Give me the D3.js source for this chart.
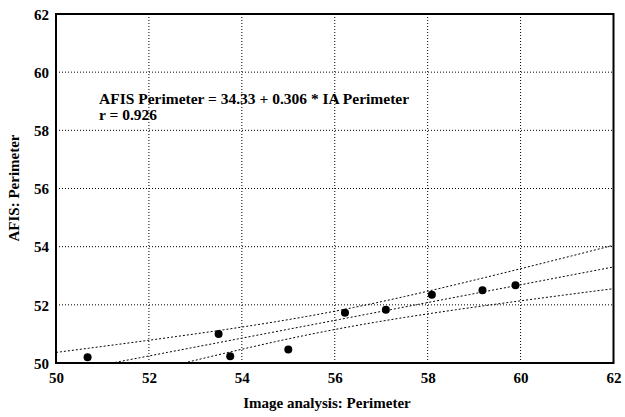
<!DOCTYPE html>
<html>
<head>
<meta charset="utf-8">
<script src="https://cdn.jsdelivr.net/npm/d3@7"></script>
<style>
  body { margin: 0; background: #fff; }
</style>
</head>
<body>
<svg width="625" height="417"></svg>
<script>
// image analysis perimeter vs AFIS perimeter
var iaPerimeter   = [50.68, 53.50, 53.75, 55.00, 56.22, 57.10, 58.09, 59.18, 59.89];
var afisPerimeter = [50.20, 51.00, 50.23, 50.46, 51.73, 51.83, 52.35, 52.50, 52.67];
var xTicks = [50, 52, 54, 56, 58, 60, 62];
var yTicks = [50, 52, 54, 56, 58, 60, 62];
var intercept = 34.33, slope = 0.306;

var serif = "'Liberation Serif', 'Times New Roman', Times, 'DejaVu Serif', serif";

var svg = d3.select("svg"),
    margin = {top: 14, right: 11.5, bottom: 54, left: 56},
    width = 625 - margin.left - margin.right,
    height = 417 - margin.top - margin.bottom;

var x = d3.scaleLinear().domain([50, 62]).range([0, width]);
var y = d3.scaleLinear().domain([50, 62]).range([height, 0]);

var g = svg.append("g")
    .attr("transform", "translate(" + margin.left + "," + margin.top + ")");

svg.append("clipPath").attr("id", "clip")
  .append("rect").attr("width", width).attr("height", height);

// grid
g.selectAll(".vgrid")
  .data(xTicks.slice(1, -1))
  .enter().append("line")
    .attr("x1", function(d) { return x(d); })
    .attr("x2", function(d) { return x(d); })
    .attr("y1", 0).attr("y2", height)
    .attr("stroke", "#000").attr("stroke-width", 1)
    .attr("stroke-dasharray", "1,2");

g.selectAll(".hgrid")
  .data(yTicks.slice(1, -1))
  .enter().append("line")
    .attr("y1", function(d) { return y(d); })
    .attr("y2", function(d) { return y(d); })
    .attr("x1", 0).attr("x2", width)
    .attr("stroke", "#000").attr("stroke-width", 1)
    .attr("stroke-dasharray", "1,2");

// regression line + 95% confidence band
var n = iaPerimeter.length,
    mx = d3.mean(iaPerimeter),
    sxx = d3.sum(iaPerimeter, function(v) { return (v - mx) * (v - mx); }),
    sse = d3.sum(iaPerimeter, function(v, i) {
      var r = afisPerimeter[i] - (intercept + slope * v);
      return r * r;
    }),
    s = Math.sqrt(sse / (n - 2)),
    t = 2.365;

var xs = d3.range(50, 62.01, 0.1);
function band(sign) {
  return xs.map(function(v) {
    var half = t * s * Math.sqrt(1 / n + (v - mx) * (v - mx) / sxx);
    return [v, intercept + slope * v + sign * half];
  });
}

var line = d3.line()
    .x(function(d) { return x(d[0]); })
    .y(function(d) { return y(d[1]); });

var fits = g.append("g").attr("clip-path", "url(#clip)");
[band(1), band(0), band(-1)].forEach(function(b) {
  fits.append("path")
      .attr("d", line(b))
      .attr("fill", "none")
      .attr("stroke", "#000")
      .attr("stroke-width", 1)
      .attr("stroke-dasharray", "2,2");
});

// points
g.selectAll("circle")
  .data(iaPerimeter)
  .enter().append("circle")
    .attr("cx", function(d) { return x(d); })
    .attr("cy", function(d, i) { return y(afisPerimeter[i]); })
    .attr("r", 4)
    .attr("fill", "#000");

// frame
g.append("rect")
    .attr("width", width).attr("height", height)
    .attr("fill", "none").attr("stroke", "#000").attr("stroke-width", 2);

// axes
var xAxis = g.append("g")
    .attr("transform", "translate(0," + height + ")")
    .call(d3.axisBottom(x).tickValues(xTicks).tickSize(0).tickPadding(9));
xAxis.select(".domain").remove();

var yAxis = g.append("g")
    .call(d3.axisLeft(y).tickValues(yTicks).tickSize(0).tickPadding(7));
yAxis.select(".domain").remove();
yAxis.selectAll("text").attr("dy", "0.35em");

// labels
svg.append("text")
    .attr("x", 327).attr("y", 408)
    .attr("text-anchor", "middle")
    .text("Image analysis: Perimeter");

svg.append("text")
    .attr("transform", "translate(19,188) rotate(-90)")
    .attr("text-anchor", "middle")
    .text("AFIS: Perimeter");

svg.selectAll("text")
    .style("font-family", serif)
    .style("font-weight", "bold")
    .style("font-size", "15px")
    .attr("fill", "#000");

var note = svg.append("g")
    .style("font-family", serif)
    .style("font-weight", "bold")
    .style("font-size", "15.5px");

note.append("text")
    .attr("x", 99).attr("y", 104)
    .text("AFIS Perimeter = 34.33 + 0.306 * IA Perimeter");

note.append("text")
    .attr("x", 99).attr("y", 120)
    .text("r = 0.926");
</script>
</body>
</html>
